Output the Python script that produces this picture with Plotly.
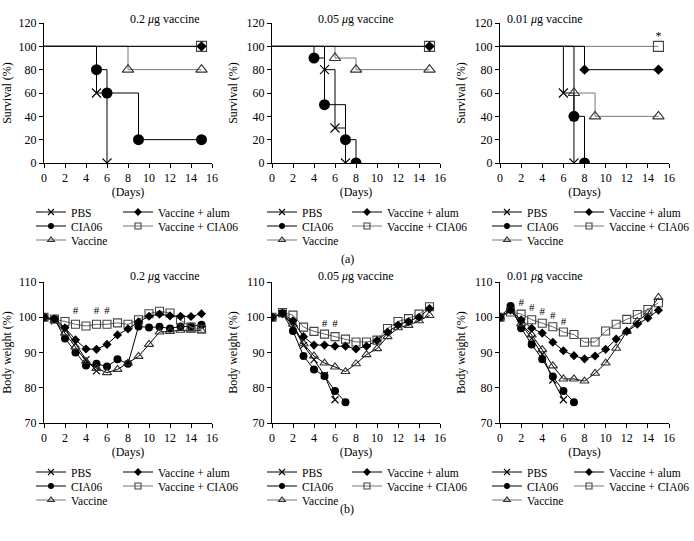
import plotly.graph_objects as go

W, H = 694, 541
FONT = "Liberation Serif"

# ---------------- DATA ----------------
panel_titles = ["0.2 <i>μ</i>g vaccine", "0.05 <i>μ</i>g vaccine", "0.01 <i>μ</i>g vaccine"]
group_names = ["PBS", "CIA06", "Vaccine", "Vaccine + alum", "Vaccine + CIA06"]
x_ticks = [0, 2, 4, 6, 8, 10, 12, 14, 16]
surv_ticks = [0, 20, 40, 60, 80, 100, 120]
bw_ticks = [70, 80, 90, 100, 110]

# (a) Survival (%) - Kaplan-Meier steps: days of events and survival after event
# 0.2 ug
a1_pbs_t = [0, 5, 6];            a1_pbs = [100, 60, 0]
a1_cia_t = [0, 5, 6, 9, 15];     a1_cia = [100, 80, 60, 20, 20]
a1_vac_t = [0, 8, 15];           a1_vac = [100, 80, 80]
a1_alum_t = [0, 15];             a1_alum = [100, 100]
a1_vc_t = [0, 15];               a1_vc = [100, 100]
# 0.05 ug
a2_pbs_t = [0, 5, 6, 7];         a2_pbs = [100, 80, 30, 0]
a2_cia_t = [0, 4, 5, 7, 8];      a2_cia = [100, 90, 50, 20, 0]
a2_vac_t = [0, 6, 8, 15];        a2_vac = [100, 90, 80, 80]
a2_alum_t = [0, 15];             a2_alum = [100, 100]
a2_vc_t = [0, 15];               a2_vc = [100, 100]
# 0.01 ug
a3_pbs_t = [0, 6, 7];            a3_pbs = [100, 60, 0]
a3_cia_t = [0, 7, 8];            a3_cia = [100, 40, 0]
a3_vac_t = [0, 7, 9, 15];        a3_vac = [100, 60, 40, 40]
a3_alum_t = [0, 8, 15];          a3_alum = [100, 80, 80]
a3_vc_t = [0, 15];               a3_vc = [100, 100]
a3_star_x = [15]; a3_star_y = [108]

# (b) Body weight (%) by day
bw_days = list(range(16))
b1_pbs = [100, 99, 96.5, 92.5, 88, 84.8]
b1_cia = [100, 99.5, 94, 90, 86.3, 86.8, 86, 88.1, 86.8, 97.4, 97.1, 97.3, 96.8, 97.4, 97.4, 97.9]
b1_vac = [100, 99, 95.5, 91.5, 87.5, 85.5, 84.3, 85.2, 87, 88.9, 92.3, 95.8, 96, 96.3, 96.3, 96.3]
b1_alum = [100, 99.5, 97, 93.6, 91, 90.9, 92.3, 95, 96.7, 98.7, 100.3, 100.9, 100.4, 100.3, 100.2, 101]
b1_vc = [100, 99.5, 98.8, 98, 97.5, 98, 98, 98.4, 98, 99.3, 101, 101.7, 101.2, 99.2, 97.2, 96.6]
b1_hash_x = [3, 5, 6]; b1_hash_y = [101.7, 101.7, 101.7]

b2_pbs = [100, 101, 97.5, 92, 88, 83.5, 76.6]
b2_cia = [100, 101.1, 96.1, 89, 85.2, 83.3, 79.1, 75.9]
b2_vac = [100, 101, 98, 92.5, 89, 87, 85.9, 84.6, 86.8, 89.4, 91.1, 94.5, 97, 97.7, 99, 100.5]
b2_alum = [100, 101, 99, 94.5, 92.1, 92.1, 91.8, 91.8, 91, 91.8, 93.4, 95.8, 97.8, 98.8, 100, 102.5]
b2_vc = [100, 101.3, 100.6, 97.2, 96, 95.2, 94.5, 93.8, 93, 93, 93.5, 96.8, 98.8, 99.6, 100.9, 103]
b2_hash_x = [5, 6]; b2_hash_y = [97.9, 97.9]

b3_pbs = [100, 102, 98, 94, 89.5, 82.2, 76.6]
b3_cia = [100, 103.2, 96.9, 92.3, 88.1, 83.2, 79.1, 75.9]
b3_vac = [100, 102, 98.2, 95, 90.8, 86.2, 82.5, 82.5, 81.9, 84.1, 87, 91.2, 96, 98.8, 101.2, 105.6]
b3_alum = [100, 102, 99.3, 96.9, 95.5, 92.9, 90.5, 89.1, 88.2, 89, 90.9, 93.8, 96, 98, 99.8, 102]
b3_vc = [100, 101.5, 100.9, 99.3, 98.3, 97.3, 95.8, 95.1, 92.9, 93, 96.1, 98, 99.4, 100.8, 102.2, 104.1]
b3_hash_x = [2, 3, 4, 5, 6]; b3_hash_y = [103.9, 102.6, 101.3, 100.4, 98.5]

# ---------------- STYLE ----------------
styles = [
    dict(symbol="x-thin", mcolor="black", lcolor="black", sa=9, sb=7, sl=6, open=True),
    dict(symbol="circle", mcolor="black", lcolor="black", sa=11, sb=8, sl=6, open=False),
    dict(symbol="triangle-up-open", mcolor="#333333", lcolor="#777777", sa=10, sb=8, sl=6, open=True),
    dict(symbol="diamond", mcolor="black", lcolor="black", sa=8, sb=7, sl=6, open=False),
    dict(symbol="square-open", mcolor="#444444", lcolor="#777777", sa=10, sb=8, sl=6, open=True),
]
draw_order = [0, 1, 2, 4, 3]  # square under diamond

cols_px = [(44, 212), (272, 440), (500, 669)]
rowA = (23, 163)
rowB = (282, 423)
legend_text_x = [(71, 158), (302, 387), (527, 609)]
legend_rows_A = [212, 226, 240]
legend_rows_B = [472, 486, 500]
TEXT_OFFSET = 40  # legend box left edge to item text


def dx(c):
    return [c[0] / W, c[1] / W]


def dy(r):
    return [1 - r[1] / H, 1 - r[0] / H]


fig = go.Figure()
layout = dict(
    width=W, height=H, margin=dict(l=0, r=0, t=0, b=0, autoexpand=False),
    plot_bgcolor="white", paper_bgcolor="white",
    font=dict(family=FONT, size=12, color="black"),
    showlegend=True, annotations=[],
)

axis_common = dict(
    showline=True, linecolor="black", linewidth=1, ticks="outside", ticklen=4,
    tickwidth=1, tickcolor="black", showgrid=False, zeroline=False, automargin=False,
    tickfont=dict(family=FONT, size=12, color="black"),
)

surv_data = [
    [(a1_pbs_t, a1_pbs), (a1_cia_t, a1_cia), (a1_vac_t, a1_vac), (a1_alum_t, a1_alum), (a1_vc_t, a1_vc)],
    [(a2_pbs_t, a2_pbs), (a2_cia_t, a2_cia), (a2_vac_t, a2_vac), (a2_alum_t, a2_alum), (a2_vc_t, a2_vc)],
    [(a3_pbs_t, a3_pbs), (a3_cia_t, a3_cia), (a3_vac_t, a3_vac), (a3_alum_t, a3_alum), (a3_vc_t, a3_vc)],
]
bw_data = [
    [b1_pbs, b1_cia, b1_vac, b1_alum, b1_vc],
    [b2_pbs, b2_cia, b2_vac, b2_alum, b2_vc],
    [b3_pbs, b3_cia, b3_vac, b3_alum, b3_vc],
]
hashes = [(b1_hash_x, b1_hash_y), (b2_hash_x, b2_hash_y), (b3_hash_x, b3_hash_y)]

legend_count = 0


def marker_dict(st, size):
    if st["open"]:
        return dict(symbol=st["symbol"], size=size, color=st["mcolor"],
                    line=dict(color=st["mcolor"], width=1.1))
    return dict(symbol=st["symbol"], size=size, color=st["mcolor"],
                line=dict(color=st["mcolor"], width=0))


def add_legends(xa, ya, col, rows_px):
    """One single-item legend per entry so rows can sit as tightly as in the reference."""
    global legend_count
    placement = [(0, 0, 0), (1, 0, 1), (2, 0, 2), (3, 1, 0), (4, 1, 1)]
    for g, k, r in placement:
        legend_count += 1
        name = "legend" if legend_count == 1 else f"legend{legend_count}"
        layout[name] = dict(
            x=(legend_text_x[col][k] - TEXT_OFFSET) / W, y=1 - rows_px[r] / H,
            xanchor="left", yanchor="middle",
            bgcolor="rgba(0,0,0,0)", borderwidth=0, itemwidth=30,
            font=dict(family=FONT, size=11.5, color="black"),
            itemclick=False, itemdoubleclick=False,
        )
        st = styles[g]
        fig.add_trace(go.Scatter(
            x=[None], y=[None], xaxis=xa, yaxis=ya, mode="lines+markers",
            name=group_names[g], legend=name,
            line=dict(color=st["lcolor"] if g in (2, 4) else "black", width=1),
            marker=marker_dict(st, st["sl"]), showlegend=True,
        ))


for c in range(3):
    # ---------- survival ----------
    i = c + 1
    xa = "x" if i == 1 else f"x{i}"
    ya = "y" if i == 1 else f"y{i}"
    xname = "xaxis" if i == 1 else f"xaxis{i}"
    yname = "yaxis" if i == 1 else f"yaxis{i}"
    layout[xname] = dict(axis_common, domain=dx(cols_px[c]), anchor=ya, range=[0, 16],
                         tickvals=x_ticks,
                         title=dict(text="(Days)", standoff=2, font=dict(family=FONT, size=12)))
    layout[yname] = dict(axis_common, domain=dy(rowA), anchor=xa, range=[0, 120],
                         tickvals=surv_ticks,
                         title=dict(text="Survival (%)", standoff=6, font=dict(family=FONT, size=12)))
    for g in draw_order:
        st = styles[g]
        t, s = surv_data[c][g]
        fig.add_trace(go.Scatter(x=t, y=s, xaxis=xa, yaxis=ya, mode="lines",
                                 line=dict(color=st["lcolor"] if g in (2, 4) else "black", width=1, shape="hv"),
                                 showlegend=False, hoverinfo="skip"))
    for g in draw_order:
        st = styles[g]
        t, s = surv_data[c][g]
        fig.add_trace(go.Scatter(x=t[1:], y=s[1:], xaxis=xa, yaxis=ya, mode="markers",
                                 marker=marker_dict(st, st["sa"]), showlegend=False))
    add_legends(xa, ya, c, legend_rows_A)
    layout["annotations"].append(dict(text=panel_titles[c], x=sum(dx(cols_px[c])) / 2, y=1 - 10 / H,
                                      xref="paper", yref="paper", showarrow=False,
                                      font=dict(family=FONT, size=12)))

    # ---------- body weight ----------
    i = c + 4
    xa = f"x{i}"
    ya = f"y{i}"
    layout[f"xaxis{i}"] = dict(axis_common, domain=dx(cols_px[c]), anchor=ya, range=[0, 16],
                               tickvals=x_ticks,
                               title=dict(text="(Days)", standoff=2, font=dict(family=FONT, size=12)))
    layout[f"yaxis{i}"] = dict(axis_common, domain=dy(rowB), anchor=xa, range=[70, 110],
                               tickvals=bw_ticks,
                               title=dict(text="Body weight (%)", standoff=6, font=dict(family=FONT, size=12)))
    for g in draw_order:
        st = styles[g]
        vals = bw_data[c][g]
        fig.add_trace(go.Scatter(x=bw_days[:len(vals)], y=vals, xaxis=xa, yaxis=ya,
                                 mode="lines+markers",
                                 line=dict(color="#666666" if g == 4 else "black", width=1),
                                 marker=marker_dict(st, st["sb"]), showlegend=False))
    hx, hy = hashes[c]
    fig.add_trace(go.Scatter(x=hx, y=hy, xaxis=xa, yaxis=ya, mode="text", text=["#"] * len(hx),
                             textfont=dict(family=FONT, size=11, color="black"),
                             showlegend=False, hoverinfo="skip"))
    add_legends(xa, ya, c, legend_rows_B)
    layout["annotations"].append(dict(text=panel_titles[c], x=sum(dx(cols_px[c])) / 2, y=1 - 276 / H,
                                      xref="paper", yref="paper", showarrow=False,
                                      font=dict(family=FONT, size=12)))

# asterisk on 0.01 ug survival
fig.add_trace(go.Scatter(x=a3_star_x, y=a3_star_y, xaxis="x3", yaxis="y3", mode="text",
                         text=["*"], textfont=dict(family=FONT, size=12, color="black"),
                         showlegend=False, hoverinfo="skip", cliponaxis=False))

layout["annotations"].append(dict(text="(a)", x=347 / W, y=1 - 259 / H, xref="paper", yref="paper",
                                  showarrow=False, font=dict(family=FONT, size=12)))
layout["annotations"].append(dict(text="(b)", x=347 / W, y=1 - 518 / H, xref="paper", yref="paper",
                                  showarrow=False, font=dict(family=FONT, size=12)))

fig.update_layout(**layout)
fig.write_html("out.html", config={"displayModeBar": False},
               post_script="document.body.style.margin='0px';")
